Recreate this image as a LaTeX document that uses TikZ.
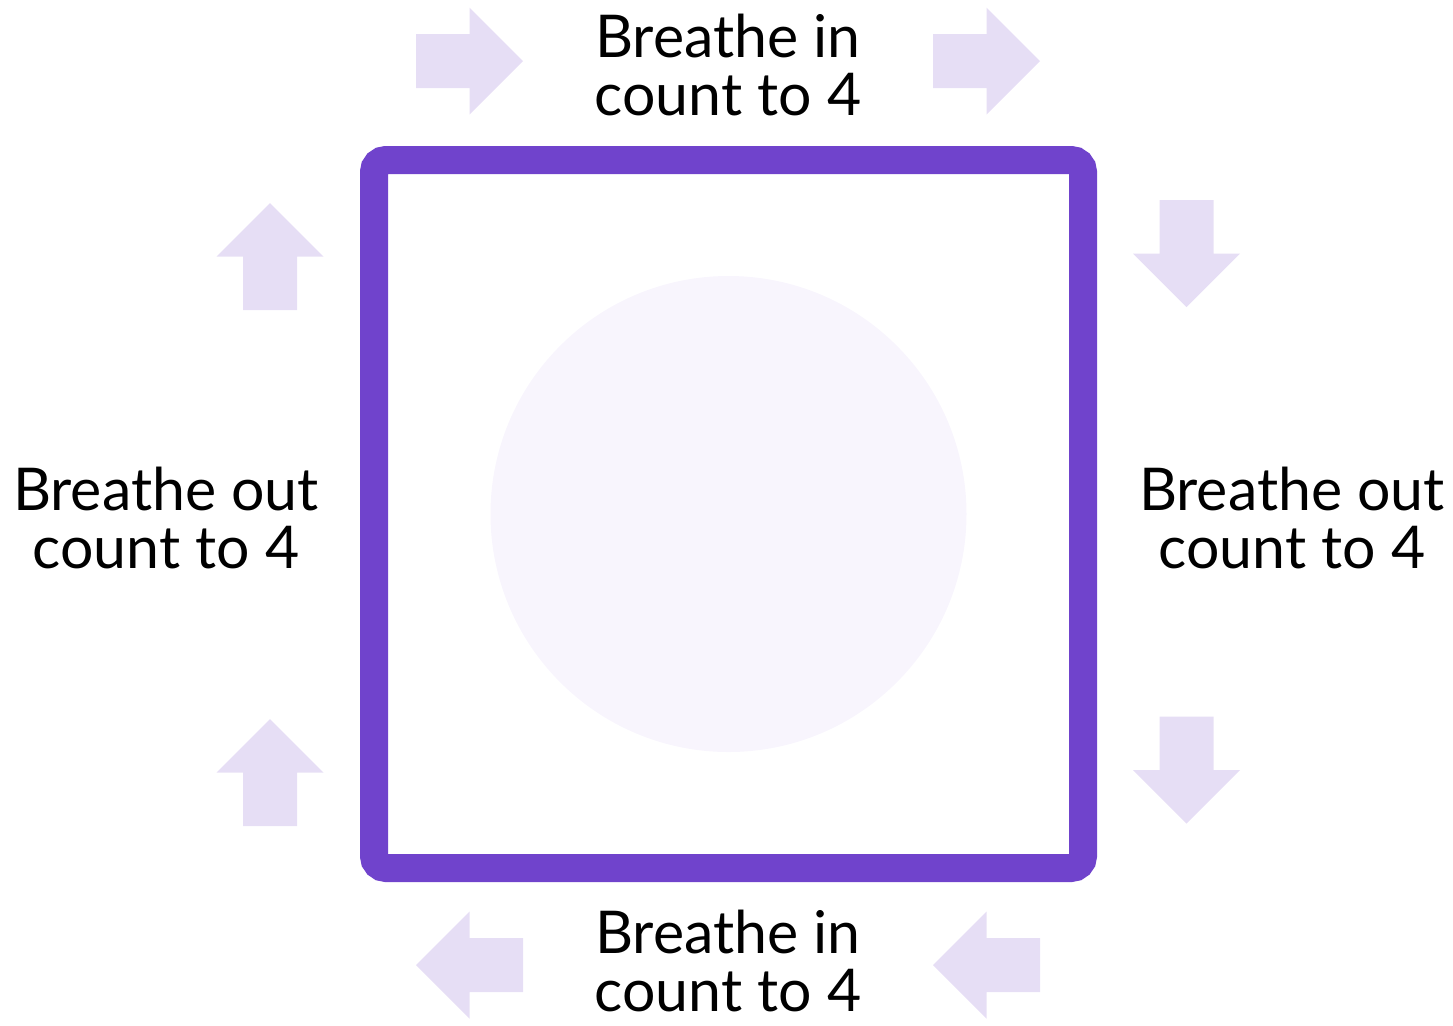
\documentclass[tikz,border=0pt]{standalone}
\usepackage{fontspec}
\setmainfont{Lato}
\usepackage{tikz}
\usetikzlibrary{positioning}
\definecolor{boxpurple}{RGB}{112, 67, 204}
\definecolor{arrowlilac}{RGB}{230, 222, 245}
\definecolor{calmlilac}{RGB}{248, 245, 253}

\begin{document}
\begin{tikzpicture}[
    x=0.5pt, y=-0.5pt,
    every node/.style={font=\fontsize{29.5}{29}\selectfont},
    label/.style={align=center, inner sep=0pt},
    flow/.pic={\fill[arrowlilac] (-53.5,-27) -- (0,-27) -- (0,-53.5) -- (53.5,0) -- (0,53.5) -- (0,27) -- (-53.5,27) -- cycle;}
]
\useasboundingbox (0,0) rectangle (1453,1025);

% Breathing square
\node[draw=boxpurple, line width=14pt, rounded corners=6pt, minimum width=354.5pt, minimum height=354pt, inner sep=0pt] (box) at (728.5,514) {};
\node[circle, fill=calmlilac, minimum size=238pt, inner sep=0pt] (calm) at (box.center) {};

% Labels
\node[label] (top) at (728,65) {Breathe in\\count to 4};
\node[label] (right) at (1292,518) {Breathe out\\count to 4};
\node[label] (bottom) at (728,961) {Breathe in\\count to 4};
\node[label] (left) at (166,518) {Breathe out\\count to 4};

% Direction arrows
\pic at (469.5,61) {flow};
\pic at (986.5,61) {flow};
\pic[rotate=-90] at (1186.5,253.5) {flow};
\pic[rotate=-90] at (1186.5,770) {flow};
\pic[rotate=180] at (469.5,965) {flow};
\pic[rotate=180] at (986.5,965) {flow};
\pic[rotate=90] at (270,256.5) {flow};
\pic[rotate=90] at (270,772.5) {flow};

\end{tikzpicture}
\end{document}
